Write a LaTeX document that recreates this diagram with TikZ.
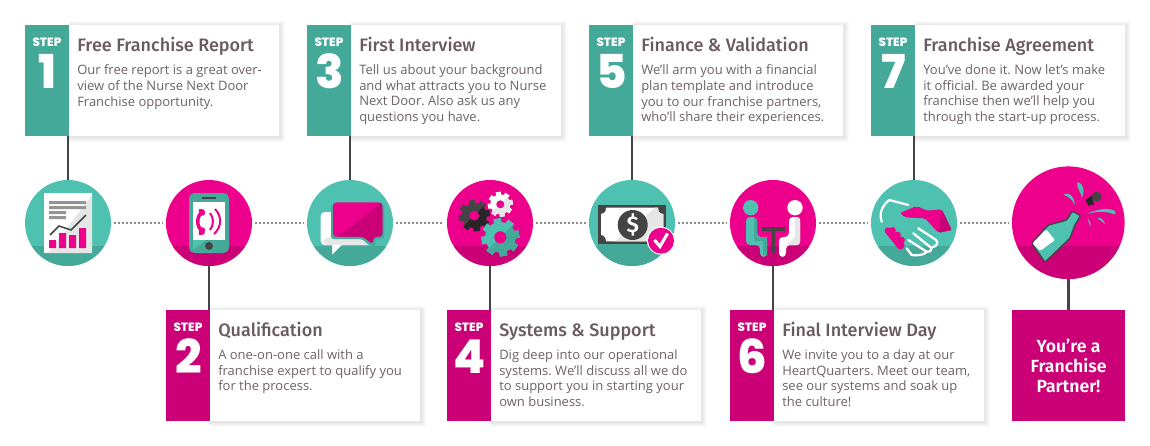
\documentclass[tikz,border=0pt]{standalone}
\usepackage{fontspec}
\setmainfont{Open Sans}
\newfontfamily\ttlfont{Fira Sans}[UprightFont=* Medium,BoldFont=* SemiBold]
\newfontfamily\numfont{Poppins}[UprightFont=* ExtraBold]
\definecolor{pinkA}{HTML}{EC008C}
\definecolor{pinkB}{HTML}{CB0077}
\definecolor{tealA}{HTML}{4FC1B1}
\definecolor{tealB}{HTML}{45A999}
\definecolor{inkA}{HTML}{444444}
\definecolor{ttlC}{HTML}{6A5B60}
\definecolor{bodyC}{HTML}{6D6266}
\definecolor{paleC}{HTML}{E5E7E6}
\tikzset{
 x=.75pt,y=-.75pt,
 tabbox/.style={anchor=north west,minimum width=33pt,minimum height=83.25pt,inner sep=0,outer sep=0},
 cardbox/.style={anchor=north west,minimum width=157.5pt,minimum height=83.25pt,fill=white,inner sep=0,outer sep=0},
 ttltext/.style={anchor=base west,inner sep=0,text=ttlC,font=\ttlfont\fontsize{13.5pt}{15pt}\selectfont},
 bodytext/.style={anchor=north west,inner sep=0,align=left,text=bodyC,font=\frenchspacing\fontsize{9.75pt}{11.75pt}\selectfont},
 steptext/.style={anchor=base,inner sep=0,text=white,font=\numfont\fontsize{9pt}{10pt}\selectfont},
 numtext/.style={anchor=base,inner sep=0,text=white,font=\numfont\fontsize{35pt}{37pt}\selectfont},
 disc/.style={circle,minimum size=64.5pt,inner sep=0,outer sep=0},
 bigdisc/.style={circle,minimum size=84.5pt,inner sep=0,outer sep=0},
 stem/.style={draw=inkA,line width=1.9pt},
 dots/.style={draw=black!45,line width=1.2pt,dash pattern=on 1.5pt off 1.5pt,shorten >=2.5pt,shorten <=2.5pt},
}
\newcommand{\cardshadow}[2]{%
 \foreach \s in {1,2,3,4,5}{\fill[black,opacity=.018] ({#1+44},{#2-\s+1}) rectangle ({#1+254+\s+1},{#2+111+\s+1});}}
\newcommand{\stepcard}[7]{% id x y colour num title body
 \cardshadow{#2}{#3}
 \node[cardbox] (card#1) at ({#2+44},#3) {};
 \node[tabbox,fill=#4] (tab#1) at (#2,#3) {};
 \node[steptext] (lab#1) at ({#2+22},{#3+21}) {STEP};
 \node[numtext] (num#1) at ({#2+22.5},{#3+63}) {#5};
 \node[ttltext] (ttl#1) at ({#2+52},{#3+26}) {#6};
 \node[bodytext] (txt#1) at ({#2+52},{#3+39.5}) {#7};
}
\newcommand{\band}[5]{% cx cy r top colour
 \begin{scope}\clip (#1,#2) circle[radius=#3];\fill[#5] ({#1-#3-1},#4) rectangle ({#1+#3+1},{#2+#3+1});\end{scope}}
\newcommand{\gear}[6]{% cx cy r hole colour dark
 \begin{scope}
 \foreach \a in {0,45,90,135}{\fill[#5,rotate around={\a+10:(#1,#2)}] ({#1-.2*#3},{#2-#3}) rectangle ({#1+.2*#3},{#2+#3});}
 \fill[#5] (#1,#2) circle[radius=.8*#3];
 \begin{scope}\clip ({#1-1.2*#3},{#2+1.2*#3}) -- ({#1+1.2*#3},{#2+1.2*#3}) -- ({#1+1.2*#3},{#2-1.2*#3}) -- cycle;
 \foreach \a in {0,45,90,135}{\fill[#6,rotate around={\a+10:(#1,#2)}] ({#1-.2*#3},{#2-#3}) rectangle ({#1+.2*#3},{#2+#3});}
 \fill[#6] (#1,#2) circle[radius=.8*#3];\end{scope}
 \fill[#4] (#1,#2) circle[radius=.32*#3];
 \end{scope}}
\begin{document}
\begin{tikzpicture}
\useasboundingbox[fill=white] (0,0) rectangle (1150,446);
% cards
\stepcard{1}{25}{25}{tealB}{1}{Free Franchise Report}{Our free report is a great over-\\view of the Nurse Next Door\\Franchise opportunity.}
\stepcard{3}{307}{25}{tealB}{3}{First Interview}{Tell us about your background\\and what attracts you to Nurse\\Next Door. Also ask us any\\questions you have.}
\stepcard{5}{589}{25}{tealB}{5}{Finance \& Validation}{We’ll arm you with a financial\\plan template and introduce\\you to our franchise partners,\\who’ll share their experiences.}
\stepcard{7}{871}{25}{tealB}{7}{Franchise Agreement}{You’ve done it. Now let’s make\\it official. Be awarded your\\franchise then we’ll help you\\through the start-up process.}
\stepcard{2}{166}{310}{pinkB}{2}{Qualification}{A one-on-one call with a\\franchise expert to qualify you\\for the process.}
\stepcard{4}{447}{310}{pinkB}{4}{Systems \& Support}{Dig deep into our operational\\systems. We’ll discuss all we do\\to support you in starting your\\own business.}
\stepcard{6}{730}{310}{pinkB}{6}{Final Interview Day}{We invite you to a day at our\\HeartQuarters. Meet our team,\\see our systems and soak up\\the culture!}
\node[anchor=north west,minimum width=84.75pt,minimum height=83.25pt,inner sep=0,outer sep=0,fill=pinkB,align=center,text=white,font=\ttlfont\bfseries\fontsize{13.2pt}{15pt}\selectfont] (final) at (1012,310) {You’re a\\Franchise\\Partner!};
% discs
\node[disc,fill=tealA] (d1) at (68,223) {};
\node[disc,fill=pinkA] (d2) at (209,223) {};
\node[disc,fill=tealA] (d3) at (350,223) {};
\node[disc,fill=pinkA] (d4) at (490,223) {};
\node[disc,fill=tealA] (d5) at (632,223) {};
\node[disc,fill=pinkA] (d6) at (773,223) {};
\node[disc,fill=tealA] (d7) at (914,223) {};
\node[bigdisc,fill=pinkA] (d8) at (1068.3,222.7) {};
\band{68}{223}{43}{246}{tealB}
\band{209}{223}{43}{246}{pinkB}
\band{350}{223}{43}{246}{tealB}
\band{490}{223}{43}{246}{pinkB}
\band{632}{223}{43}{246}{tealB}
\band{773}{223}{43}{246}{pinkB}
\band{914}{223}{43}{246}{tealB}
\band{1068.3}{222.7}{56.3}{246}{pinkB}
% connectors
\draw[stem] (tab1.south -| d1.north) -- (d1.north);
\draw[stem] (tab3.south -| d3.north) -- (d3.north);
\draw[stem] (tab5.south -| d5.north) -- (d5.north);
\draw[stem] (tab7.south -| d7.north) -- (d7.north);
\draw[stem] (d2.south) -- (d2.south |- tab2.north);
\draw[stem] (d4.south) -- (d4.south |- tab4.north);
\draw[stem] (d6.south) -- (d6.south |- tab6.north);
\draw[stem] (d8.south) -- (d8.south |- final.north);
\foreach \a/\b in {d1/d2,d2/d3,d3/d4,d4/d5,d5/d6,d6/d7}{\draw[dots] (\a.east) -- (\b.west);}
\draw[dots] (d7.east) -- (d7.east -| d8.west);
% icon 1: report
\fill[white] (44,193) rectangle (92,253);
\fill[paleC] (92,195) -- (92,253) -- (48,253) -- cycle;
\fill[black!42] (49,201) rectangle (86,204) (49,206) rectangle (86,209) (49,211) rectangle (66,214) (49,216) rectangle (66,219);
\fill[pinkA] (49,240) rectangle (56,248) (59,233) rectangle (66,248) (69,235) rectangle (76,248) (79,228) rectangle (86,248);
\draw[inkA,line width=1.1pt] (50,235) -- (59,226) -- (71,230) -- (86,215);
% icon 2: phone
\fill[tealB,rounded corners=4pt] (189,193) rectangle (229,253);
\fill[tealA] (193,240) -- (206,240) -- (193,250) -- cycle;
\fill[white] (193,202) rectangle (225,240);
\fill[inkA] (202,197) rectangle (216,199);
\fill[inkA] (209,246) circle[radius=4];
\draw[pinkA,line width=2.6pt] (203,211) .. controls (196,216) and (196,227) .. (203,232);
\fill[pinkA,rounded corners=.8pt] (198.5,209) -- (204.5,209.5) -- (205,215) -- (200,216) -- cycle;
\fill[pinkA,rounded corners=.8pt] (198.5,235) -- (204.5,234.5) -- (205,228) -- (200,227) -- cycle;
\draw[pinkA,line width=1.5pt] (210,213) .. controls (214,218) and (214,225) .. (210,230);
\draw[pinkA,line width=1.5pt] (215,209) .. controls (222,216) and (222,227) .. (214,234);
% icon 3: chat
\fill[white,rounded corners=3pt] (320.7,212) -- (336,212) -- (336,245) -- (320.7,245) -- cycle;
\fill[paleC] (323,240) -- (330,236.7) -- (360,236.7) -- (368,245) -- (341.7,245) -- (332.3,254.3) -- (332.3,245) -- (326,245) -- cycle;
\fill[white] (332.3,245) -- (341.7,245) -- (332.3,254.3) -- cycle;
\fill[tealB,rounded corners=2pt] (331,204) -- (384,204) -- (384,239) -- (375,239) -- (375,248) -- (362,239) -- (331,239) -- cycle;
\fill[pinkA,rounded corners=2.5pt] (333,202.3) -- (382.3,202.3) -- (382.3,236.7) -- (373.3,236.7) -- (372.7,244.3) -- (363.3,236.7) -- (333,236.7) -- cycle;
\begin{scope}
\clip (338.3,236.7) -- (382.3,202.3) -- (385,247) -- (338.3,247) -- cycle;
\fill[pinkB,rounded corners=2.5pt] (333,202.3) -- (382.3,202.3) -- (382.3,236.7) -- (373.3,236.7) -- (372.7,244.3) -- (363.3,236.7) -- (333,236.7) -- cycle;
\end{scope}
% icon 4: gears
\gear{474.3}{215.7}{15.6}{pinkA}{inkA}{black!85}
\gear{500.3}{204.3}{12.5}{pinkA}{white}{paleC}
\gear{500.3}{237.3}{19}{pinkA}{tealA}{tealB}
% icon 5: money
\fill[tealB] (598,205) rectangle (666,246);
\fill[inkA] (598,205) rectangle (666,244);
\fill[white] (606,207.7) -- (658,207.7) .. controls (658,212) and (660,214) .. (663.3,214) -- (663.3,235) .. controls (660,235) and (658,238) .. (658,241.3) -- (606,241.3) .. controls (606,238) and (604,235) .. (601,235) -- (601,214) .. controls (604,214) and (606,212) .. (606,207.7) -- cycle;
\fill[paleC] (655,207.7) -- (658,207.7) .. controls (658,212) and (660,214) .. (663.3,214) -- (663.3,235) .. controls (660,235) and (658,238) .. (658,241.3) -- (615,241.3) -- cycle;
\fill[inkA] (632.7,225) circle[radius=15];
\node[inner sep=0,text=white,font=\ttlfont\bfseries\fontsize{17pt}{17pt}\selectfont] (dollar) at (632.7,224.5) {\$};
\fill[white] (661,240.7) circle[radius=14];
\fill[pinkA] (661,240.7) circle[radius=13];
\draw[white,line width=2.3pt] (654.5,240) -- (660,246.5) -- (667.5,233.5);
% icon 6: people at table
\fill[tealA] (750.7,207.7) circle[radius=7.7];
\fill[white] (795,207.7) circle[radius=7.7];
\fill[tealA,rounded corners=3pt] (746,217) -- (757,217) -- (757,237) -- (767,237) -- (767,257) -- (760,257) -- (760,245) -- (746,245) -- cycle;
\fill[tealB] (754,217) -- (757,220) -- (757,237) -- (767,237) -- (767,255) -- (763,255) -- (763,241) -- (754,241) -- cycle;
\fill[white,rounded corners=3pt] (800,217) -- (789,217) -- (789,237) -- (779,237) -- (779,257) -- (786,257) -- (786,245) -- (800,245) -- cycle;
\fill[paleC,rounded corners=2pt] (800,217) -- (795,217) -- (795,238) -- (786,245) -- (800,245) -- cycle;
\fill[inkA] (762,227) rectangle (785,231) (771.7,231) rectangle (775,253);
% icon 7: handshake
\draw[white,line width=1.7pt,line cap=round,line join=round] (881.7,221.7) .. controls (878.5,212) and (883,205) .. (889.3,200) -- (908.3,205);
\fill[pinkA,rounded corners=1.5pt] (900,213) -- (916.7,206) -- (926.7,210.7) -- (941.7,209.3) -- (951.7,230) -- (938.3,232.7) -- (925,218.3) -- (905,217.3) -- cycle;
\fill[pinkB,rounded corners=1pt] (941.7,209.3) -- (951.7,230) -- (938.3,232.7) -- cycle;
\fill[pinkA,rounded corners=2.5pt] (883.3,230) -- (888.3,226) -- (906,245) -- (900,251) -- cycle;
\fill[pinkA] (892.5,230.5) circle[radius=3.4] (897.5,235) circle[radius=3.4] (901.5,240) circle[radius=3.4];
\draw[white,line width=1.7pt,line cap=round,line join=round] (918.3,228.3) -- (936,240) .. controls (939,243) and (936,247) .. (932.5,247)
 (913.3,233.3) -- (931.7,248.3) .. controls (932,251) and (929,252.5) .. (926.7,251.7)
 (908.3,240) -- (926.7,251.7) .. controls (925,255) and (916,256) .. (911.7,255) -- (906.7,248.3);
% icon 8: champagne
\fill[tealA,draw=inkA,line width=1.1pt,line join=round,rounded corners=1pt] (1031.7,243.3) -- (1048.3,225) -- (1066.7,220) -- (1072.3,211) -- (1080.7,215.7) -- (1075,225) -- (1070,238.3) -- (1045,262.3) -- cycle;
\fill[white,rounded corners=1pt] (1032.5,243.3) -- (1046,229.3) -- (1055,240) -- (1040,251) -- cycle;
\fill[inkA] (1096.7,196.7) circle[radius=5];
\fill[black!85] (1085.7,200) -- (1091.7,195.7) -- (1094,204.3) -- (1088.3,205.7) -- cycle;
\fill[tealA] (1063.3,195) .. controls (1069,191) and (1074,196) .. (1075,205) .. controls (1072,199) and (1068,196) .. (1063.3,195) -- cycle;
\fill[tealA] (1077.3,182.3) .. controls (1084,183) and (1085,192) .. (1081.7,198.3) .. controls (1082,192) and (1076,189) .. (1077.3,182.3) -- cycle;
\fill[tealA] (1086.7,214.3) .. controls (1096,209) and (1107,208) .. (1113,210) .. controls (1116,211) and (1116,214) .. (1115,214.5) .. controls (1106,211) and (1096,211) .. (1086.7,214.3) -- cycle;
\fill[tealA] (1088.3,218.3) .. controls (1090,221) and (1091,224) .. (1090.7,226.7) .. controls (1089,224) and (1087.5,221) .. (1088.3,218.3) -- cycle;
\fill[tealA] (1097.3,218.3) .. controls (1101,217) and (1104,220) .. (1105,224.3) .. controls (1102,221.5) and (1100,219.5) .. (1097.3,218.3) -- cycle;
\end{tikzpicture}
\end{document}
